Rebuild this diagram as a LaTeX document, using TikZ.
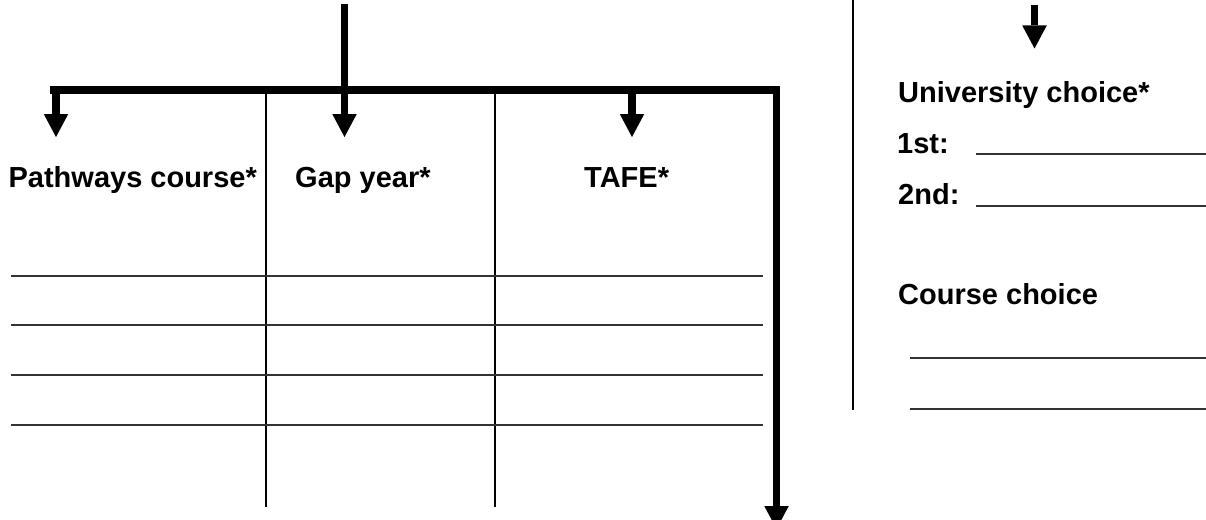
\documentclass[tikz,border=0pt]{standalone}
\usepackage{fontspec}
\setmainfont{Liberation Sans}
\usetikzlibrary{arrows.meta}
\begin{document}
\begin{tikzpicture}[x=1pt,y=-1pt,
  thickline/.style={line width=7.8pt, line join=miter, line cap=butt},
  tipped/.style={-{Triangle[width=24.5pt,length=23pt,line width=0pt]}},
  rulebar/.style={line width=1.7pt, black},
  blank/.style={line width=2pt, black!80},
  lbl/.style={font=\fontsize{29}{34}\selectfont\bfseries, inner sep=0pt, anchor=base west}]
\clip (0,0) rectangle (1206,519);
% coordinates
\coordinate (top) at (344.5,4);
\coordinate (barL) at (50,90);
\coordinate (barR) at (776.5,90);
\coordinate (endR) at (776.5,529);
\coordinate (pJ) at (56,90);
\coordinate (pT) at (56,137);
\coordinate (gT) at (344.5,137);
\coordinate (tJ) at (632,90);
\coordinate (tT) at (632,137);
\coordinate (uTop) at (1034.5,5);
\coordinate (uT) at (1034.5,48.5);
% labels
\node[lbl] (path) at (8.4,187.5) {Pathways course*};
\node[lbl] (gap) at (295,187.5) {Gap year*};
\node[lbl] (tafe) at (584,187.5) {TAFE*};
\node[lbl] (uni) at (898,102.5) {University choice*};
\node[lbl] (first) at (897,153) {1st:};
\node[lbl] (second) at (898,204) {2nd:};
\node[lbl] (course) at (898,304) {Course choice};
% thick connectors
\draw[thickline] (barL) -- (barR) -- (endR);
\draw[thickline,tipped] (barR) -- (endR);
\draw[thickline,tipped] (top) -- (gT);
\draw[thickline,tipped] (pJ) -- (pT);
\draw[thickline,tipped] (tJ) -- (tT);
\draw[thickline,tipped] (uTop) -- (uT);
% column rules
\draw[rulebar] (265.8,93) -- (265.8,506.7);
\draw[rulebar] (495.3,93) -- (495.3,506.7);
\draw[rulebar] (852.8,0) -- (852.8,410);
% blanks
\foreach \yy in {275.7,325,375,425}
  \draw[blank] (11.3,\yy) -- (762.7,\yy);
\draw[blank] (976,154) -- (1206,154);
\draw[blank] (976,205.5) -- (1206,205.5);
\draw[blank] (910,357.5) -- (1206,357.5);
\draw[blank] (910,409) -- (1206,409);
\end{tikzpicture}
\end{document}
